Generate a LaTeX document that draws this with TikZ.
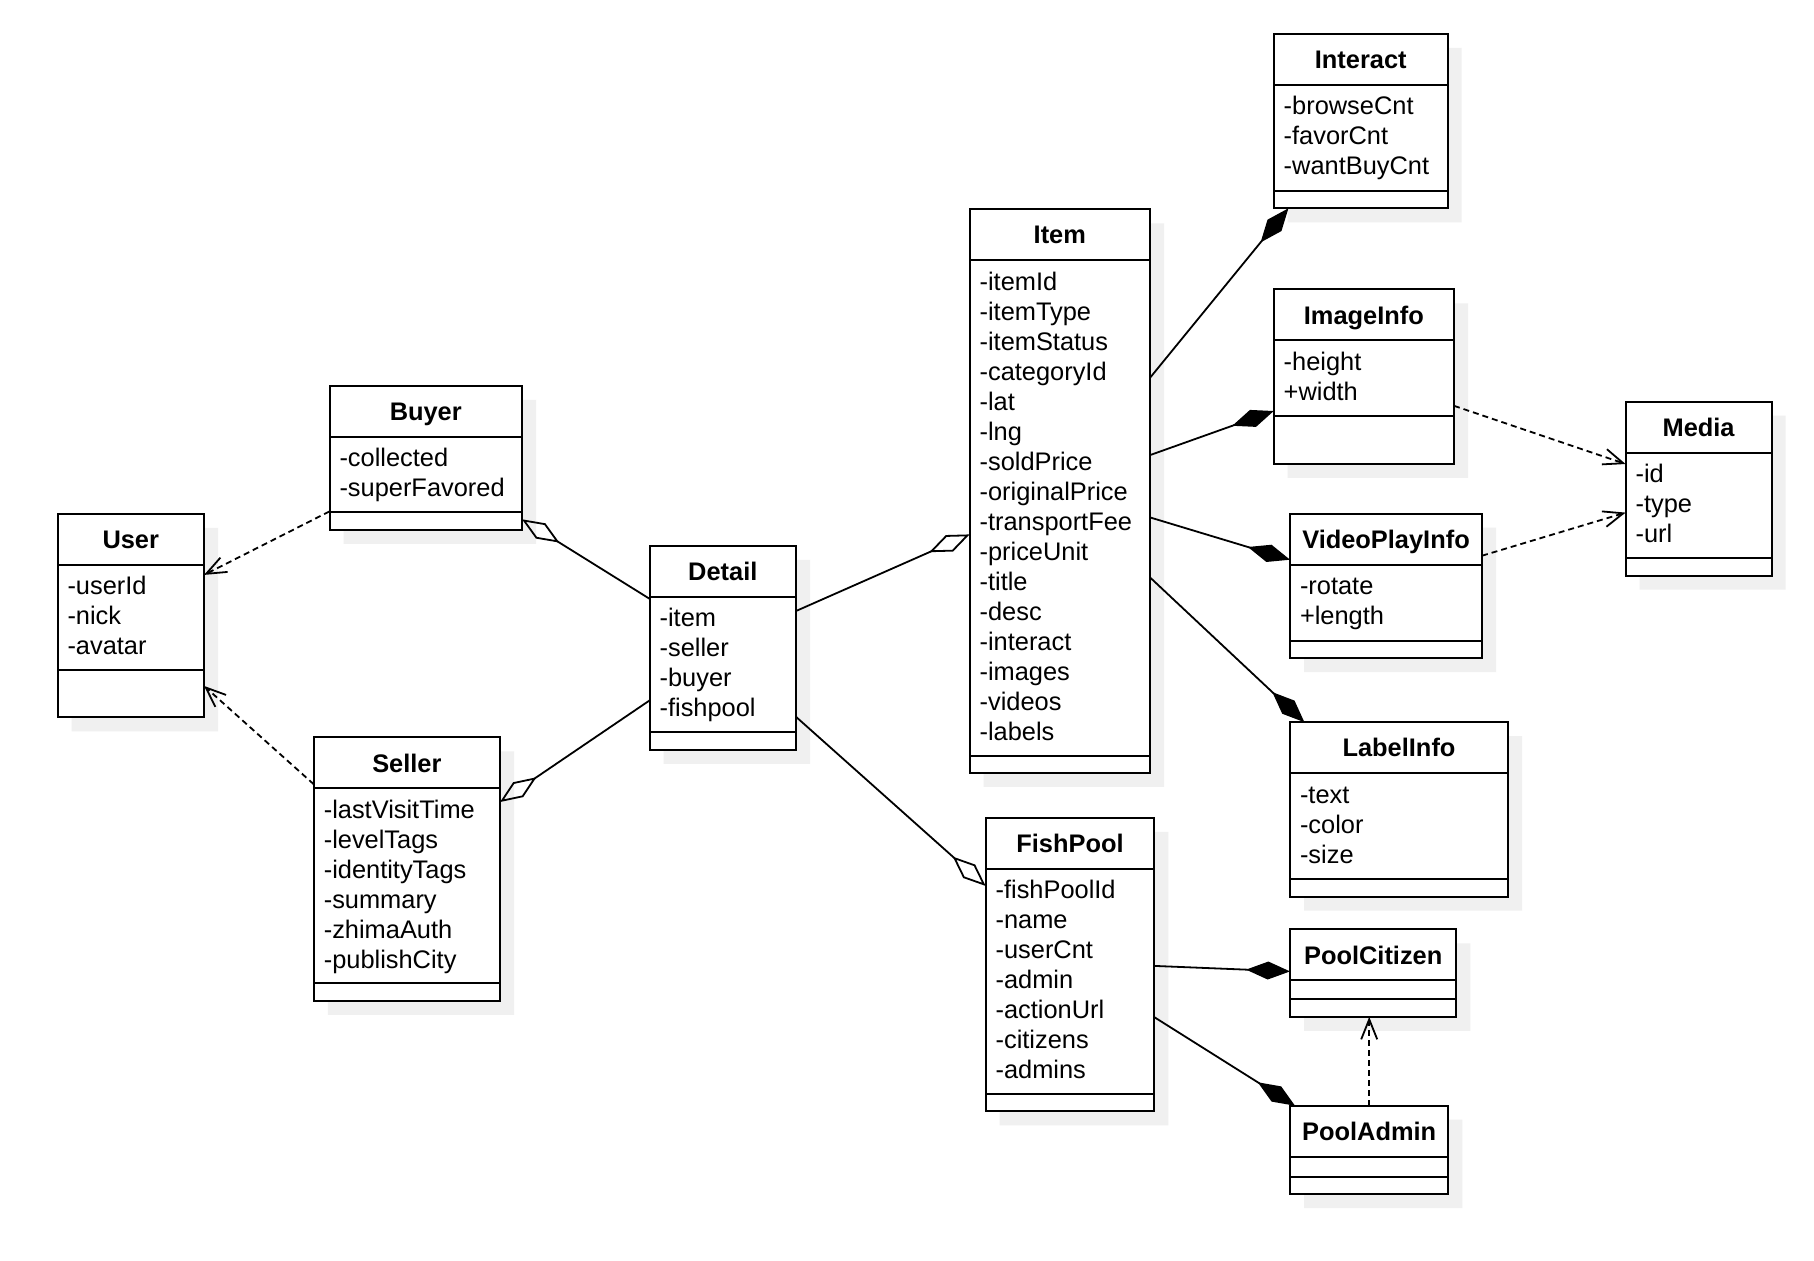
\documentclass[tikz,border=0pt]{standalone}
\usepackage{fontspec}
\setmainfont{Liberation Sans}
\usetikzlibrary{arrows.meta,calc,shapes.multipart,shadows}
\newlength{\px}\setlength{\px}{0.5pt}
\newlength{\classw}
\newcommand{\umlfont}{\fontsize{12.7}{15}\selectfont}
\newcommand{\classname}[1]{\parbox[c][49\px][c]{\classw}{\centering\bfseries\raisebox{0pt}[\height][0pt]{#1}}}
\newcommand{\classattrs}[2]{\parbox[c][#1\px][t]{\classw}{\raggedright\vspace*{8\px}\strut #2}}
\newcommand{\classops}[1]{\parbox[c][#1\px]{\classw}{\mbox{}}}
\tikzset{
  umlclass/.style={rectangle split,rectangle split parts=3,draw=black,line width=1pt,
    fill=white,inner xsep=5pt,inner ysep=0pt,outer sep=0pt,anchor=north west,font=\umlfont,
    drop shadow={shadow xshift=7pt,shadow yshift=-7pt,fill=black!6,opacity=1}},
  boxw/.code={\setlength{\classw}{#1\px}\addtolength{\classw}{-20\px}},
  assoc/.style={line width=0.9pt,draw=black},
  agg/.style={assoc,-{Diamond[open,length=22pt,width=9pt]}},
  comp/.style={assoc,-{Diamond[length=22pt,width=9pt]}},
  dep/.style={assoc,dash pattern=on 3pt off 2pt,-{Straight Barb[length=10pt,width=8pt]}}
}
\begin{document}
\begin{tikzpicture}[x=0.5pt,y=-0.5pt]
  \path[use as bounding box,fill=white] (0,0) rectangle (1814,1260);

  % users
  \node[umlclass,boxw=146.5] (user) at (57.5,513.9) {\classname{User}\nodepart{two}\classattrs{103.5}{-userId\\-nick\\-avatar}\nodepart{three}\classops{45}};
  \node[umlclass,boxw=192.5] (buyer) at (329.5,385.8) {\classname{Buyer}\nodepart{two}\classattrs{73.5}{-collected\\-superFavored}\nodepart{three}\classops{15.5}};
  \node[umlclass,boxw=186.2] (seller) at (313.8,737.3) {\classname{Seller}\nodepart{two}\classattrs{193}{-lastVisitTime\\-levelTags\\-identityTags\\-summary\\-zhimaAuth\\-publishCity}\nodepart{three}\classops{15.5}};
  \node[umlclass,boxw=146.4] (detail) at (649.6,545.8) {\classname{Detail}\nodepart{two}\classattrs{133.5}{-item\\-seller\\-buyer\\-fishpool}\nodepart{three}\classops{15.5}};

  % item side
  \node[umlclass,boxw=180.4] (item) at (969.6,209.4) {\classname{Item}\nodepart{two}\classattrs{494}{-itemId\\-itemType\\-itemStatus\\-categoryId\\-lat\\-lng\\-soldPrice\\-originalPrice\\-transportFee\\-priceUnit\\-title\\-desc\\-interact\\-images\\-videos\\-labels}\nodepart{three}\classops{14.5}};
  \node[umlclass,boxw=174] (interact) at (1273.7,33.8) {\classname{Interact}\nodepart{two}\classattrs{104}{-browseCnt\\-favorCnt\\-wantBuyCnt}\nodepart{three}\classops{15.5}};
  \node[umlclass,boxw=180.3] (imageinfo) at (1273.7,289.4) {\classname{ImageInfo}\nodepart{two}\classattrs{74}{-height\\+width}\nodepart{three}\classops{45.5}};
  \node[umlclass,boxw=192] (videoplay) at (1290,513.7) {\classname{VideoPlayInfo}\nodepart{two}\classattrs{74}{-rotate\\+length}\nodepart{three}\classops{15.5}};
  \node[umlclass,boxw=218] (labelinfo) at (1290,722.2) {\classname{LabelInfo}\nodepart{two}\classattrs{104}{-text\\-color\\-size}\nodepart{three}\classops{15.5}};
  \node[umlclass,boxw=146] (media) at (1625.6,401.6) {\classname{Media}\nodepart{two}\classattrs{103.5}{-id\\-type\\-url}\nodepart{three}\classops{15.5}};

  % fish pool side
  \node[umlclass,boxw=168.8] (fishpool) at (985.6,817.9) {\classname{FishPool}\nodepart{two}\classattrs{223}{-fishPoolId\\-name\\-userCnt\\-admin\\-actionUrl\\-citizens\\-admins}\nodepart{three}\classops{15.5}};
  \node[umlclass,boxw=166.4] (poolcitizen) at (1290,929.4) {\classname{PoolCitizen}\nodepart{two}\classops{17}\nodepart{three}\classops{15.5}};
  \node[umlclass,boxw=158.4] (pooladmin) at (1290,1105.7) {\classname{PoolAdmin}\nodepart{two}\classops{18}\nodepart{three}\classops{15.5}};

  % relations
  \draw[dep] ($(buyer.north west)+(0,125.6)$) -- ($(user.north east)+(0,61)$);
  \draw[dep] ($(seller.north west)+(0,47)$) -- ($(user.north east)+(0,172)$);
  \draw[agg] ($(detail.north west)+(0,53)$) -- ($(buyer.north east)+(0,133.5)$);
  \draw[agg] ($(detail.north west)+(0,154.6)$) -- ($(seller.north east)+(0,64.7)$);
  \draw[agg] ($(detail.north east)+(0,65.2)$) -- ($(item.north west)+(0,325)$);
  \draw[agg] ($(detail.north east)+(0,171)$) -- ($(fishpool.north west)+(0,68)$);
  \draw[comp] ($(item.north east)+(0,168.4)$) -- ($(interact.south west)+(14.7,0)$);
  \draw[comp] ($(item.north east)+(0,245.7)$) -- ($(imageinfo.north west)+(0,121.6)$);
  \draw[comp] ($(item.north east)+(0,308)$) -- ($(videoplay.north west)+(0,46)$);
  \draw[comp] ($(item.north east)+(0,368)$) -- ($(labelinfo.north west)+(14.4,0)$);
  \draw[dep] ($(imageinfo.north east)+(0,116.4)$) -- ($(media.north west)+(0,62.4)$);
  \draw[dep] ($(videoplay.north east)+(0,42)$) -- ($(media.north west)+(0,111)$);
  \draw[comp] ($(fishpool.north east)+(0,148)$) -- ($(poolcitizen.north west)+(0,42)$);
  \draw[comp] ($(fishpool.north east)+(0,199.3)$) -- ($(pooladmin.north west)+(5,0)$);
  \draw[dep] (pooladmin.north) -- (pooladmin.north |- poolcitizen.south);
\end{tikzpicture}
\end{document}
